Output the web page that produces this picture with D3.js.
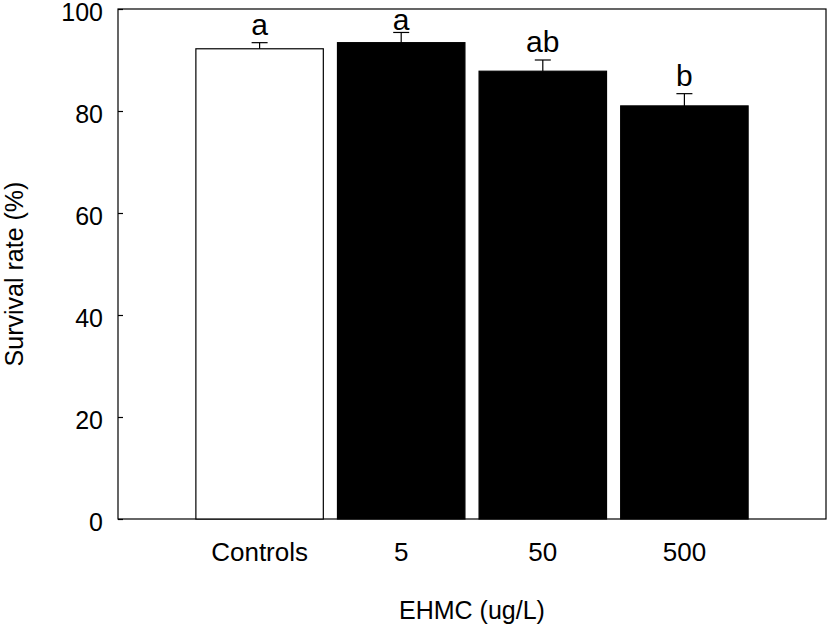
<!DOCTYPE html>
<html>
<head>
<meta charset="utf-8">
<script src="https://cdn.jsdelivr.net/npm/d3@7"></script>
<style>
  body { margin: 0; background: #fff; }
  text { font-family: Arial, "Liberation Sans", sans-serif; fill: #000; }
</style>
</head>
<body>
<div id="chart"></div>
<script>
// data
var categories = ["Controls", "5", "50", "500"];
var survival   = [92.2, 93.4, 87.8, 81.0];
var errors     = [1.2, 2.0, 2.2, 2.4];
var letters    = ["a", "a", "ab", "b"];
var yTicks     = [0, 20, 40, 60, 80, 100];

var W = 828, H = 632;
var margin = {top: 9, right: 2, bottom: 113, left: 118},
    width = W - margin.left - margin.right,
    height = H - margin.top - margin.bottom;

var svg = d3.select("#chart").append("svg")
    .attr("width", W)
    .attr("height", H)
  .append("g")
    .attr("transform", "translate(" + margin.left + "," + margin.top + ")");

var x = d3.scaleBand()
    .domain(categories)
    .range([0, width])
    .paddingInner(0.1)
    .paddingOuter(0.55);

var y = d3.scaleLinear().domain([0, 100]).range([height, 0]);

// frame
svg.append("rect")
    .attr("x", 0).attr("y", 0)
    .attr("width", width).attr("height", height)
    .attr("fill", "none")
    .attr("stroke", "#000")
    .attr("stroke-width", 1.2);

// bars
svg.selectAll(".bar")
    .data(categories)
  .enter().append("rect")
    .attr("class", "bar")
    .attr("x", function(d) { return x(d); })
    .attr("y", function(d, i) { return y(survival[i]); })
    .attr("width", x.bandwidth())
    .attr("height", function(d, i) { return y(0) - y(survival[i]); })
    .attr("fill", function(d, i) { return i == 0 ? "#fff" : "#000"; })
    .attr("stroke", "#000")
    .attr("stroke-width", 1.2);

// error bars (upper only)
var capW = 8;
var err = svg.selectAll(".err")
    .data(categories)
  .enter().append("g")
    .attr("class", "err");

err.append("line")
    .attr("x1", function(d) { return x(d) + x.bandwidth() / 2; })
    .attr("x2", function(d) { return x(d) + x.bandwidth() / 2; })
    .attr("y1", function(d, i) { return y(survival[i]); })
    .attr("y2", function(d, i) { return y(survival[i] + errors[i]); })
    .attr("stroke", "#000").attr("stroke-width", 1.2);

err.append("line")
    .attr("x1", function(d) { return x(d) + x.bandwidth() / 2 - capW; })
    .attr("x2", function(d) { return x(d) + x.bandwidth() / 2 + capW; })
    .attr("y1", function(d, i) { return y(survival[i] + errors[i]); })
    .attr("y2", function(d, i) { return y(survival[i] + errors[i]); })
    .attr("stroke", "#000").attr("stroke-width", 1.2);

// significance letters, kept inside the frame
svg.selectAll(".sig")
    .data(categories)
  .enter().append("text")
    .attr("class", "sig")
    .attr("x", function(d) { return x(d) + x.bandwidth() / 2; })
    .attr("y", function(d, i) { return Math.max(y(survival[i] + errors[i]) - 8, 20.5); })
    .attr("text-anchor", "middle")
    .style("font-size", "30px")
    .text(function(d, i) { return letters[i]; });

// y axis, ticks inward
var yAxis = d3.axisLeft(y)
    .tickValues(yTicks)
    .tickSize(-5)
    .tickPadding(15);

var gy = svg.append("g").call(yAxis);
gy.select(".domain").remove();
gy.selectAll("line").attr("stroke", "#000").attr("stroke-width", 1.2);
gy.selectAll("text").style("font-size", "25px").attr("dy", "0.44em");

// x axis labels
var xAxis = d3.axisBottom(x).tickSize(0).tickPadding(24);
var gx = svg.append("g")
    .attr("transform", "translate(0," + height + ")")
    .call(xAxis);
gx.select(".domain").remove();
gx.selectAll("text").style("font-size", "26px");

// axis titles
svg.append("text")
    .attr("transform", "translate(" + (-95) + "," + (height / 2 + 10) + ") rotate(-90)")
    .attr("text-anchor", "middle")
    .style("font-size", "25px")
    .text("Survival rate (%)");

svg.append("text")
    .attr("x", width / 2)
    .attr("y", height + 100)
    .attr("text-anchor", "middle")
    .style("font-size", "25px")
    .text("EHMC (ug/L)");
</script>
</body>
</html>
